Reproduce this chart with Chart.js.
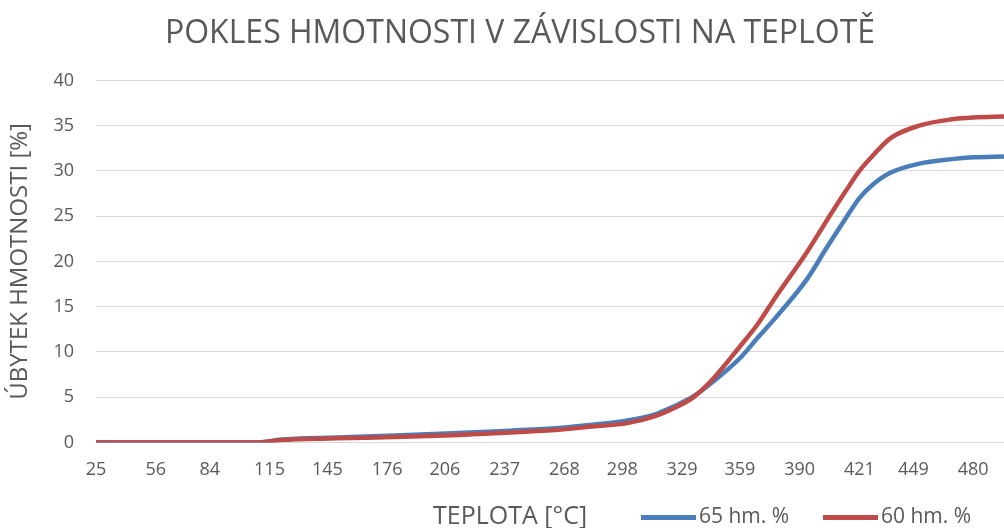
<!DOCTYPE html>
<html>
<head>
<meta charset="utf-8">
<script src="https://cdn.jsdelivr.net/npm/chart.js@4/dist/chart.umd.min.js"></script>
<style>
  html, body { margin: 0; padding: 0; background: #fff; }
  #wrap { position: relative; width: 1004px; height: 528px; }
  .bottom { position: absolute; top: 500px; height: 30px; line-height: 30px;
            font-family: 'Open Sans', sans-serif; font-size: 21px; color: #595959; white-space: nowrap; }
  #xTitle { font-size: 25px; top: 499px; }
  .swatch { display: inline-block; width: 55px; height: 5px; vertical-align: middle; margin-right: 3px; }
</style>
</head>
<body>
<div id="wrap">
  <canvas id="chart" width="1004" height="528"></canvas>
  <div class="bottom" id="xTitle" style="left:433px"></div>
  <div id="legend"></div>
</div>
<script>
var temperatures = [25, 60, 110, 120, 150, 180, 210, 240, 265, 285, 300, 315, 325, 335, 345, 359, 368, 378, 394, 404, 414, 421, 428, 437, 452, 469, 480, 496];
var loss65 = [0, 0, 0, 0.3, 0.55, 0.75, 1.0, 1.3, 1.6, 2.0, 2.4, 3.1, 4.0, 5.1, 6.7, 9.3, 11.5, 13.9, 18.1, 21.5, 24.8, 27.0, 28.5, 29.8, 30.8, 31.3, 31.5, 31.6];
var loss60 = [0, 0, 0, 0.25, 0.45, 0.6, 0.8, 1.1, 1.4, 1.8, 2.1, 2.9, 3.8, 5.0, 7.0, 10.6, 13.0, 16.2, 21.1, 24.5, 27.8, 30.0, 31.7, 33.6, 35.0, 35.7, 35.9, 36.0];
var xTickLabels = [25, 56, 84, 115, 145, 176, 206, 237, 268, 298, 329, 359, 390, 421, 449, 480];
var seriesNames = ["65 hm. %", "60 hm. %"];
var seriesColors = ["#4a7ebb", "#be4b48"];

var textColor = "#595959";
var gridColor = "#d9d9d9";
var font = "'Open Sans', sans-serif";

function toPoints(values) {
    return temperatures.map(function (t, i) {
        return { x: t, y: values[i] };
    });
}

var chart = new Chart(document.getElementById("chart"), {
    type: "line",
    data: {
        datasets: [loss65, loss60].map(function (values, i) {
            return {
                label: seriesNames[i],
                data: toPoints(values),
                borderColor: seriesColors[i],
                backgroundColor: seriesColors[i],
                borderWidth: 4.5,
                pointRadius: 0,
                cubicInterpolationMode: "monotone",
                fill: false,
                order: 2 - i // red series drawn on top, as in the original
            };
        })
    },
    options: {
        responsive: false,
        animation: false,
        // left padding nudges the centred chart title right, like the original
        layout: { padding: { left: 36, bottom: 38 } },
        plugins: {
            legend: { display: false },
            tooltip: { enabled: false },
            title: {
                display: true,
                text: "POKLES HMOTNOSTI V ZÁVISLOSTI NA TEPLOTĚ",
                color: textColor,
                font: { family: font, size: 32, weight: "normal" },
                padding: { top: 15, bottom: 27 }
            }
        },
        scales: {
            x: {
                type: "linear",
                min: 25,
                max: 496,
                afterBuildTicks: function (scale) {
                    scale.ticks = xTickLabels.map(function (v) { return { value: v }; });
                },
                ticks: {
                    color: textColor,
                    font: { family: font, size: 18 },
                    padding: 9,
                    autoSkip: false,
                    maxRotation: 0,
                    callback: function (v) { return String(v); }
                },
                grid: { display: false },
                border: { color: gridColor }
            },
            y: {
                min: 0,
                max: 40,
                afterFit: function (scale) { scale.width = 60; },
                ticks: {
                    stepSize: 5,
                    color: textColor,
                    font: { family: font, size: 18 },
                    padding: 22
                },
                grid: { color: gridColor, drawTicks: false },
                border: { display: false },
                title: {
                    display: true,
                    text: "ÚBYTEK HMOTNOSTI [%]",
                    color: textColor,
                    font: { family: font, size: 24 },
                    padding: { top: -30, bottom: 0 }
                }
            }
        }
    }
});

// bottom row: axis title and legend share one line, as in the original
document.getElementById("xTitle").textContent = "TEPLOTA [°C]";
var legendLefts = [641, 823];
var legend = document.getElementById("legend");
chart.data.datasets.forEach(function (ds, i) {
    var item = document.createElement("div");
    item.className = "bottom";
    item.style.left = legendLefts[i] + "px";
    item.innerHTML = '<span class="swatch" style="background:' + ds.borderColor + '"></span>' + ds.label;
    legend.appendChild(item);
});
</script>
</body>
</html>
